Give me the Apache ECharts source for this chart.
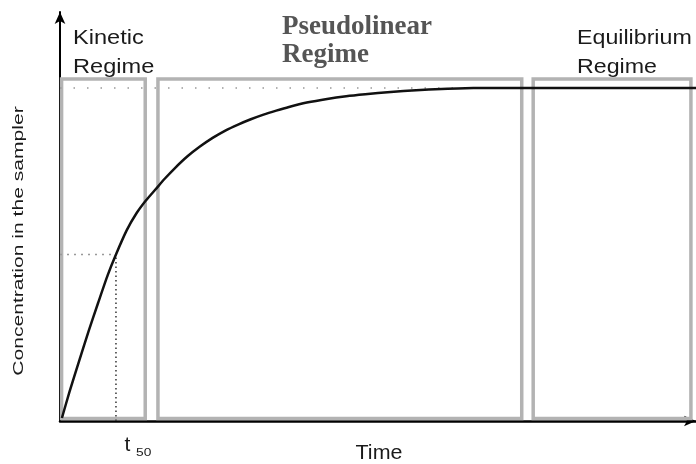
<!DOCTYPE html>
<html><head><meta charset="utf-8">
<script src="https://cdn.jsdelivr.net/npm/echarts@6/dist/echarts.min.js"></script>
<style>html,body{margin:0;padding:0;background:#fff}#c{width:696px;height:464px}</style>
</head><body><div id="c"></div>
<script>
// Time (arbitrary units, 0..100) and concentration (% of equilibrium)
const curveTime = [0.3, 1.5, 3, 4.5, 6, 7.5, 8.8, 10.5, 12, 13.5, 15, 16.5, 18, 20, 22, 24, 26, 28, 30, 32, 34, 36, 38.8, 42, 45, 48, 52, 56, 60, 65, 72.3, 100];
const curveConc = [0.9, 8.8, 18.0, 27.0, 35.5, 43.8, 50, 57.3, 62.3, 66.2, 69.5, 72.8, 75.8, 79.4, 82.4, 85.0, 87.2, 89.0, 90.6, 92.0, 93.2, 94.3, 95.6, 96.7, 97.5, 98.1, 98.8, 99.3, 99.7, 100, 100, 100];
const t50 = 8.8;
const halfConc = 50;
const eqConc = 100;
const eqLineEnd = 72.3;
const regimeNames = ['Kinetic\nRegime', 'Pseudolinear\nRegime', 'Equilibrium\nRegime'];
const regimeStart = [0.25, 15.4, 74.4];
const regimeEnd = [13.4, 72.6, 99.2];
const regimeBottom = 0.75;
const regimeTop = 102.7;
const xName = 'Time';
const yName = 'Concentration in the sampler';
const t50Label = ['t', '50'];

const chart = echarts.init(document.getElementById('c'), null, {renderer: 'canvas'});
const boxes = regimeStart.map((s, i) => [{xAxis: s, yAxis: regimeBottom}, {xAxis: regimeEnd[i], yAxis: regimeTop}]);
const gray = '#b3b3b3';
const sans = '"Liberation Sans", Arial, sans-serif';
chart.setOption({
  animation: false,
  grid: {left: 60, right: 0, top: 12, bottom: 43},
  xAxis: {
    type: 'value', min: 0, max: 100,
    axisLine: {show: true, lineStyle: {color: '#000', width: 2.5}, symbol: ['none', 'arrow'], symbolSize: [8, 12]},
    axisTick: {show: false}, axisLabel: {show: false}, splitLine: {show: false}
  },
  yAxis: {
    type: 'value', min: 0, max: 122.8,
    axisLine: {show: true, lineStyle: {color: '#000', width: 2}, symbol: ['none', 'arrow'], symbolSize: [8, 12]},
    axisTick: {show: false}, axisLabel: {show: false}, splitLine: {show: false}
  },
  series: [
    {
      type: 'line', data: [[0, eqConc], [eqLineEnd, eqConc]], symbol: 'none', silent: true,
      lineStyle: {color: '#999', width: 1.5, type: [1.5, 12]}, z: 1
    },
    {
      type: 'line', data: [[0, halfConc], [t50, halfConc]], symbol: 'none', silent: true,
      lineStyle: {color: '#999', width: 1.5, type: [2, 5]}, z: 1
    },
    {
      type: 'line', data: [[t50, 0], [t50, halfConc]], symbol: 'none', silent: true,
      lineStyle: {color: '#333', width: 1.5, type: [1.5, 3]}, z: 1
    },
    {
      type: 'line', data: curveTime.map((t, i) => [t, curveConc[i]]), symbol: 'none',
      smooth: 0.2,
      lineStyle: {color: '#111', width: 2.5, join: 'round'}, z: 3,
      markArea: {
        silent: true,
        itemStyle: {color: 'rgba(0,0,0,0)', borderColor: gray, borderWidth: 3.5},
        data: boxes
      }
    }
  ],
  graphic: [
    {type: 'text', x: 73, y: 24, scaleX: 1.18, style: {text: regimeNames[0], font: '20px ' + sans, lineHeight: 29, fill: '#1a1a1a'}},
    {type: 'text', x: 282, y: 13, style: {text: regimeNames[1], font: 'bold 27px "Liberation Serif", serif', lineHeight: 28, fill: '#555'}},
    {type: 'text', x: 577, y: 24, scaleX: 1.16, style: {text: regimeNames[2], font: '20px ' + sans, lineHeight: 29, fill: '#1a1a1a'}},
    {type: 'text', x: 19, y: 241, rotation: Math.PI / 2, scaleX: 1.36, style: {text: yName, font: '15.5px ' + sans, fill: '#1a1a1a', align: 'center', verticalAlign: 'middle'}},
    {type: 'text', x: 379, y: 454, scaleX: 1.1, style: {text: xName, font: '19.5px ' + sans, fill: '#1a1a1a', align: 'center', verticalAlign: 'middle'}},
    {type: 'text', x: 124.5, y: 445, style: {text: t50Label[0], font: '21px ' + sans, fill: '#1a1a1a', verticalAlign: 'middle'}},
    {type: 'text', x: 136, y: 453, scaleX: 1.25, style: {text: t50Label[1], font: '11px ' + sans, fill: '#1a1a1a', verticalAlign: 'middle'}}
  ]
});
</script></body></html>
